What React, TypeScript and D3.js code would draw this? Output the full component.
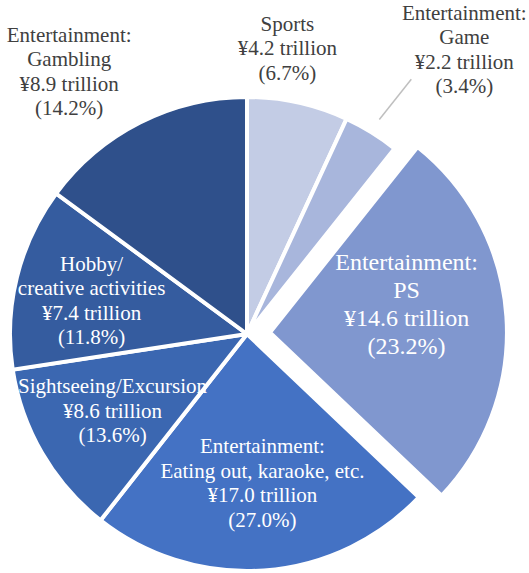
import React from 'react';
import * as d3 from 'd3';

// data (clockwise from 12 o'clock)
const categories = [
  'Sports',
  'Entertainment:\nGame',
  'Entertainment:\nPS',
  'Entertainment:\nEating out, karaoke, etc.',
  'Sightseeing/Excursion',
  'Hobby/\ncreative activities',
  'Entertainment:\nGambling',
];
const valuesTrillion = [4.2, 2.2, 14.6, 17.0, 8.6, 7.4, 8.9];
const shares = [6.7, 3.4, 23.2, 27.0, 13.6, 11.8, 14.2];
// slice sizes as actually drawn in the picture (%), they don't quite follow the printed shares
const drawnShares = [6.9, 3.8, 26.4, 23.5, 12.0, 12.5, 14.9];

const colors = ['#c3cce5', '#a8b6dc', '#8097cf', '#4472c4', '#3b67b1', '#355c9f', '#2f508b'];

// layout
const width = 529;
const height = 573;
const cx = 247;
const cy = 334;
const radius = 237;
const explode = [0, 0, 23, 0, 0, 0, 0];
const outside = [true, true, false, false, false, false, true];
const fontSizes = [21, 21, 24, 21, 21, 21, 21];
// nudges from the slice centroid (Excel best-fit placement)
const nudges: [number, number][] = [
  [-22, -3],
  [65, -38],
  [-21, -18],
  [4, -9],
  [2, -3],
  [-2, 4],
  [-47, -4],
];

const App: React.FC = () => {
  const pie = d3.pie<number>().sort(null).value((d) => d);
  const arcs = pie(drawnShares);

  const arc = d3.arc<d3.PieArcDatum<number>>().innerRadius(0).outerRadius(radius);
  const insideArc = d3.arc<d3.PieArcDatum<number>>().innerRadius(158).outerRadius(158);
  const outsideArc = d3.arc<d3.PieArcDatum<number>>().innerRadius(290).outerRadius(290);
  const leaderArc = d3.arc<d3.PieArcDatum<number>>().innerRadius(252).outerRadius(252);

  const shift = (a: d3.PieArcDatum<number>, i: number): [number, number] => {
    const mid = (a.startAngle + a.endAngle) / 2;
    return [Math.sin(mid) * explode[i], -Math.cos(mid) * explode[i]];
  };

  return (
    <svg width={width} height={height} style={{ position: 'absolute', left: 0, top: 0 }}>
      <g transform={`translate(${cx},${cy})`}>
        {arcs.map((a, i) => {
          const [sx, sy] = shift(a, i);
          return (
            <path
              key={'s' + i}
              d={arc(a) || ''}
              transform={`translate(${sx},${sy})`}
              fill={colors[i]}
              stroke="#fff"
              strokeWidth={4}
            />
          );
        })}
        {arcs.map((a, i) => {
          const [sx, sy] = shift(a, i);
          const base = outside[i] ? outsideArc.centroid(a) : insideArc.centroid(a);
          const x = base[0] + sx + nudges[i][0];
          const y = base[1] + sy + nudges[i][1];
          const fs = fontSizes[i];
          const lh = fs * 1.17;
          const lines = [
            ...categories[i].split('\n'),
            `¥${valuesTrillion[i].toFixed(1)} trillion`,
            `(${shares[i].toFixed(1)}%)`,
          ];
          const top = y - ((lines.length - 1) / 2) * lh + fs * 0.35;
          let leader: React.ReactNode = null;
          if (i === 1) {
            const p = leaderArc.centroid(a);
            leader = (
              <line
                x1={p[0]}
                y1={p[1]}
                x2={x - 53}
                y2={y + 30}
                stroke="#bfbfbf"
                strokeWidth={1.5}
              />
            );
          }
          return (
            <g key={'l' + i}>
              {leader}
              <text
                textAnchor="middle"
                fontFamily="'Liberation Serif', 'Times New Roman', serif"
                fontSize={fs}
                fill={outside[i] ? '#404040' : '#ffffff'}
              >
                {lines.map((t, j) => (
                  <tspan key={j} x={x} y={top + j * lh}>
                    {t}
                  </tspan>
                ))}
              </text>
            </g>
          );
        })}
      </g>
    </svg>
  );
};

export default App;
